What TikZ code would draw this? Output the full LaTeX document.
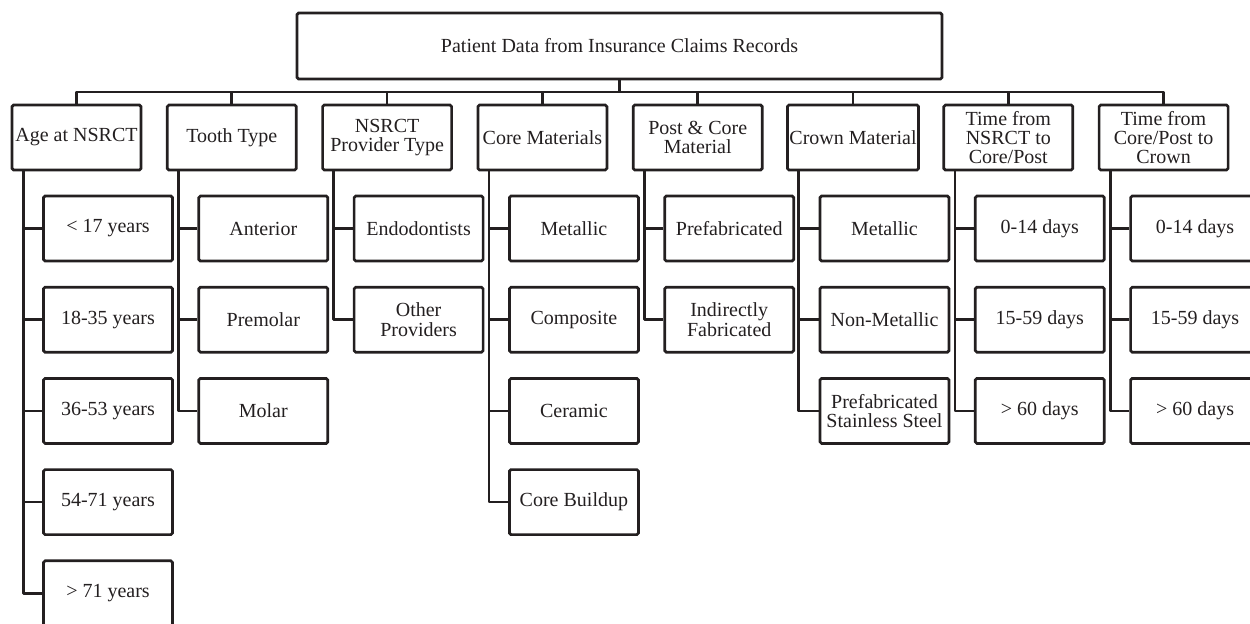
\documentclass[tikz,border=0pt]{standalone}
\usepackage{fontspec}
\setmainfont{Liberation Serif}
\definecolor{ink}{HTML}{231F20}
\tikzset{
  box/.style={draw=ink, text=ink, line width=1.35pt, rounded corners=0.8pt, minimum width=64.5pt, minimum height=32.5pt, align=center, inner sep=1pt, font=\fontsize{10}{9.6}\selectfont},
  link/.style={draw=ink, line width=1.35pt, line join=round},
}
\begin{document}
\begin{tikzpicture}[x=0.5pt,y=-0.5pt]
\useasboundingbox (0,0) rectangle (1250,623);
% root and the bar under it
\node[box, minimum width=322.5pt, minimum height=33pt] (root) at (619.5,46) {Patient Data from Insurance Claims Records};
\coordinate (bar) at (619.5,92);
\draw[link] (root) -- (bar);
% categories
\foreach \k/\lab [count=\i from 0] in {age/{Age at NSRCT}, tooth/{Tooth Type}, prov/{NSRCT\\Provider Type}, core/{Core Materials}, post/{Post \& Core\\Material}, crown/{Crown Material}, tcore/{Time from\\NSRCT to\\Core/Post}, tcrown/{Time from\\Core/Post to\\Crown}}
{
  \node[box] (\k) at (76.5+155.3*\i,137.5) {\lab};
  \draw[link] (\k.north) |- (bar);
}
% sub-categories, one loop per column
\foreach \lab [count=\j from 0] in {{< 17 years},{18-35 years},{36-53 years},{54-71 years},{> 71 years}}
{
  \node[box] (age-\j) at (108,228.5+91.2*\j) {\lab};
  \draw[link] (age.south west) ++(12.5,0) |- (age-\j.west);
}
\foreach \lab [count=\j from 0] in {Anterior,Premolar,Molar}
{
  \node[box] (tooth-\j) at (263.3,228.5+91.2*\j) {\lab};
  \draw[link] (tooth.south west) ++(12.5,0) |- (tooth-\j.west);
}
\foreach \lab [count=\j from 0] in {Endodontists,{Other\\Providers}}
{
  \node[box] (prov-\j) at (418.6,228.5+91.2*\j) {\lab};
  \draw[link] (prov.south west) ++(12.5,0) |- (prov-\j.west);
}
\foreach \lab [count=\j from 0] in {Metallic,Composite,Ceramic,Core Buildup}
{
  \node[box] (core-\j) at (573.9,228.5+91.2*\j) {\lab};
  \draw[link] (core.south west) ++(12.5,0) |- (core-\j.west);
}
\foreach \lab [count=\j from 0] in {Prefabricated,{Indirectly\\Fabricated}}
{
  \node[box] (post-\j) at (729.2,228.5+91.2*\j) {\lab};
  \draw[link] (post.south west) ++(12.5,0) |- (post-\j.west);
}
\foreach \lab [count=\j from 0] in {Metallic,Non-Metallic,{Prefabricated\\Stainless Steel}}
{
  \node[box] (crown-\j) at (884.5,228.5+91.2*\j) {\lab};
  \draw[link] (crown.south west) ++(12.5,0) |- (crown-\j.west);
}
\foreach \lab [count=\j from 0] in {0-14 days,15-59 days,{> 60 days}}
{
  \node[box] (tcore-\j) at (1039.8,228.5+91.2*\j) {\lab};
  \draw[link] (tcore.south west) ++(12.5,0) |- (tcore-\j.west);
  \node[box] (tcrown-\j) at (1195.1,228.5+91.2*\j) {\lab};
  \draw[link] (tcrown.south west) ++(12.5,0) |- (tcrown-\j.west);
}
\end{tikzpicture}
\end{document}
